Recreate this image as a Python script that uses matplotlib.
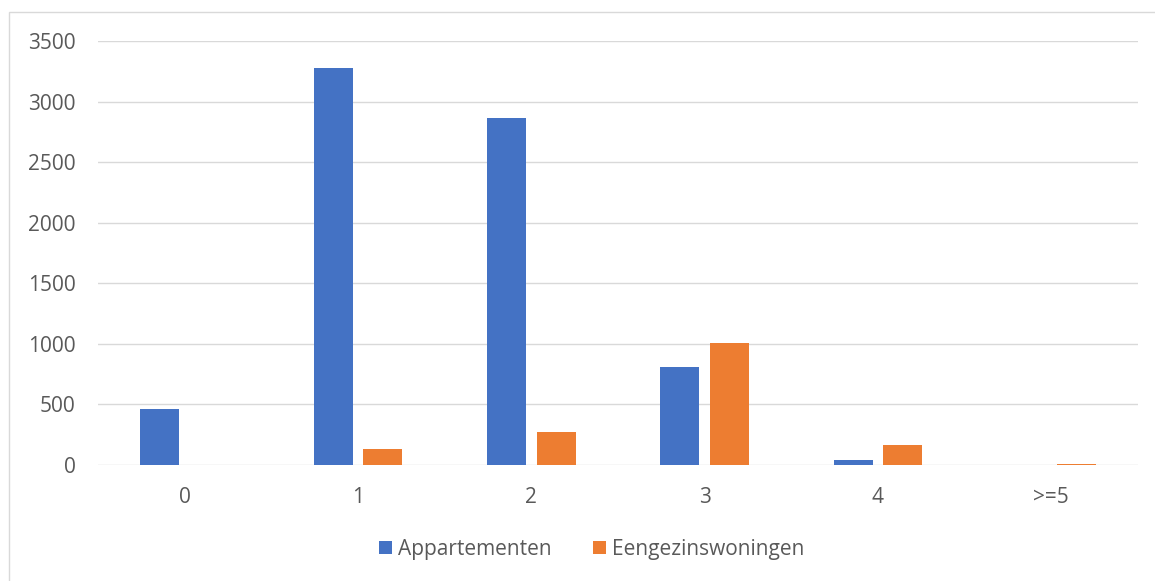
import numpy as np
import matplotlib
matplotlib.use("Agg")
import matplotlib.pyplot as plt
from matplotlib.patches import Rectangle

categories = ["0", "1", "2", "3", "4", ">=5"]
appartementen = [466, 3278, 2865, 812, 41, 0]
eengezins = [0, 132, 272, 1005, 168, 8]

plt.rcParams['font.family'] = ['Open Sans', 'DejaVu Sans']

blue = "#4472C4"
orange = "#ED7D31"
txt = "#595959"
fs = 15

fig = plt.figure(figsize=(11.55, 5.81), dpi=100)
ax = fig.add_axes([98 / 1155, 1 - 465 / 581, 1040 / 1155, 424 / 581])

x = np.arange(len(categories))
w = 0.225
off = w / 2 + 0.03
ax.bar(x - off, appartementen, w, color=blue, label="Appartementen", zorder=3)
ax.bar(x + off, eengezins, w, color=orange, label="Eengezinswoningen", zorder=3)

ax.set_xlim(-0.5, len(categories) - 0.5)
ax.set_ylim(0, 3500)
ax.set_yticks(np.arange(0, 3501, 500))
ax.set_xticks(x)
ax.set_xticklabels(categories)
ax.grid(axis="y", color="#d9d9d9", linewidth=1.0, zorder=0)
ax.tick_params(axis="both", length=0, labelsize=fs, colors=txt)
ax.tick_params(axis="y", pad=16)
ax.tick_params(axis="x", pad=16)
for s in ax.spines.values():
    s.set_visible(False)

# chart area border
fig.patches.append(Rectangle((9 / 1155, -0.1), 1.2, 1 - 12 / 581 + 0.1,
                             transform=fig.transFigure, fill=False,
                             edgecolor="#d9d9d9", linewidth=1.0))

leg = fig.legend(loc="center", bbox_to_anchor=(592 / 1155, 1 - 549 / 581),
                 ncol=2, frameon=False, fontsize=fs, handlelength=0.6,
                 handleheight=0.6, handletextpad=0.3, columnspacing=2.0)
for t in leg.get_texts():
    t.set_color(txt)

fig.savefig("out.png", dpi=100)
